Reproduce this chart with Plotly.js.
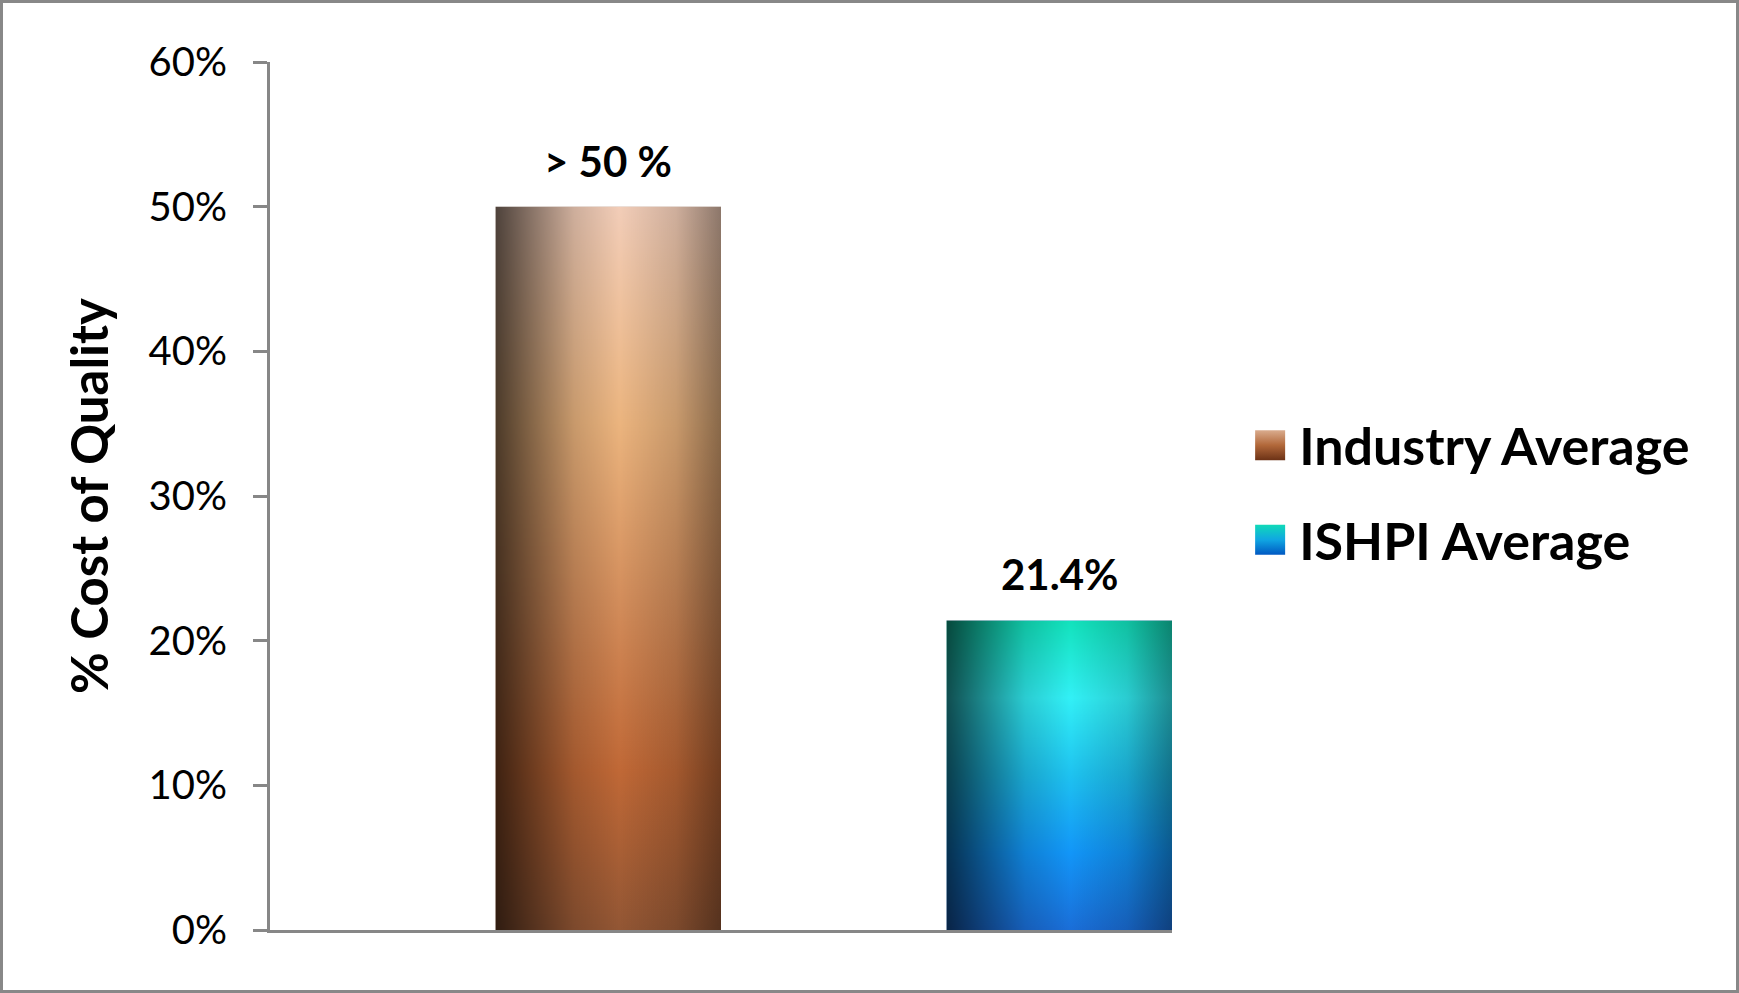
<!DOCTYPE html>
<html>
<head>
<meta charset="utf-8">
<script src="https://cdn.plot.ly/plotly-3.0.1.min.js"></script>
<style>
  html, body { margin: 0; padding: 0; background: #fff; }
  #wrap { position: relative; width: 1739px; height: 993px; }
  #chart { width: 1739px; height: 993px; }
  #frame { position: absolute; left: 0; top: 0; right: 0; bottom: 0; border: 3px solid #888888; pointer-events: none; }
  #gdefs { position: absolute; width: 0; height: 0; }
</style>
</head>
<body>
<svg id="gdefs" width="0" height="0" aria-hidden="true">
  <defs>
    <linearGradient id="vA" x1="0" y1="0" x2="0" y2="1">
      <stop offset="0" stop-color="#F2CDB8"/>
      <stop offset="0.3" stop-color="#EBB47E"/>
      <stop offset="0.55" stop-color="#D28C5A"/>
      <stop offset="0.78" stop-color="#C06836"/>
      <stop offset="1" stop-color="#925634"/>
    </linearGradient>
    <linearGradient id="vB" x1="0" y1="0" x2="0" y2="1">
      <stop offset="0" stop-color="#12E2BC"/>
      <stop offset="0.25" stop-color="#32F0F6"/>
      <stop offset="0.5" stop-color="#1EC2F0"/>
      <stop offset="0.75" stop-color="#1296F8"/>
      <stop offset="1" stop-color="#1A6ED8"/>
    </linearGradient>
    <linearGradient id="hShade" x1="0" y1="0" x2="1" y2="0">
      <stop offset="0" stop-color="#000" stop-opacity="0.68"/>
      <stop offset="0.15" stop-color="#000" stop-opacity="0.45"/>
      <stop offset="0.35" stop-color="#000" stop-opacity="0.15"/>
      <stop offset="0.55" stop-color="#000" stop-opacity="0"/>
      <stop offset="0.8" stop-color="#000" stop-opacity="0.15"/>
      <stop offset="1" stop-color="#000" stop-opacity="0.42"/>
    </linearGradient>
    <pattern id="patA" patternUnits="objectBoundingBox" patternContentUnits="objectBoundingBox" width="1" height="1">
      <rect x="0" y="0" width="1" height="1" fill="url(#vA)"/>
      <rect x="0" y="0" width="1" height="1" fill="url(#hShade)"/>
    </pattern>
    <pattern id="patB" patternUnits="objectBoundingBox" patternContentUnits="objectBoundingBox" width="1" height="1">
      <rect x="0" y="0" width="1" height="1" fill="url(#vB)"/>
      <rect x="0" y="0" width="1" height="1" fill="url(#hShade)"/>
    </pattern>
    <linearGradient id="legA" x1="0" y1="0" x2="0" y2="1">
      <stop offset="0" stop-color="#DAAC8E"/>
      <stop offset="0.5" stop-color="#B2683A"/>
      <stop offset="1" stop-color="#6C3216"/>
    </linearGradient>
    <linearGradient id="legB" x1="0" y1="0" x2="0" y2="1">
      <stop offset="0" stop-color="#10DAB8"/>
      <stop offset="0.5" stop-color="#10A6E2"/>
      <stop offset="1" stop-color="#0058C2"/>
    </linearGradient>
  </defs>
</svg>
<div id="wrap">
  <div id="chart"></div>
  <div id="frame"></div>
</div>
<script>
// ---- data ----
var categories = ["Industry Average", "ISHPI Average"];
var values = [0.50, 0.214];
var labels = ["> 50 %", "21.4%"];
var seriesNames = ["Industry Average", "ISHPI Average"];
var yTickVals = [0, 0.1, 0.2, 0.3, 0.4, 0.5, 0.6];
var yTickText = ["0%", "10%", "20%", "30%", "40%", "50%", "60%"];
var yTitle = "% Cost of Quality";

var baseColors = ["#C07848", "#18A8E8"];
var patterns = ["url(#patA)", "url(#patB)"];
var legendFills = ["url(#legA)", "url(#legB)"];

var FONT = "Lato, 'Open Sans', sans-serif";
var axisGray = "#878787";

var traces = categories.map(function (c, i) {
  return {
    type: "bar",
    name: seriesNames[i],
    x: [c],
    y: [values[i]],
    width: 0.5,
    legendgroup: "g" + i,
    marker: { color: baseColors[i], line: { width: 0 } },
    hoverinfo: "skip"
  };
});

var annotations = categories.map(function (c, i) {
  return {
    x: c, y: values[i], xref: "x", yref: "y",
    text: labels[i], showarrow: false,
    yanchor: "middle", yshift: 46,
    font: { family: FONT, size: 42, color: "#000", weight: "bold" }
  };
});

var layout = {
  width: 1739, height: 993,
  paper_bgcolor: "#ffffff", plot_bgcolor: "#ffffff",
  margin: { l: 270, r: 567, t: 62, b: 63, pad: 0 },
  barmode: "overlay",
  showlegend: true,
  legend: {
    x: 1.07, y: 0.605, xanchor: "left", yanchor: "top",
    traceorder: "grouped", tracegroupgap: 24,
    itemwidth: 54, itemclick: false, itemdoubleclick: false,
    font: { family: FONT, size: 52, color: "#000", weight: "bold" },
    bgcolor: "rgba(0,0,0,0)"
  },
  xaxis: {
    type: "category",
    categoryorder: "array", categoryarray: categories,
    range: [-0.75, 1.25],
    showline: true, linecolor: axisGray, linewidth: 3,
    ticks: "", showticklabels: false, showgrid: false, zeroline: false,
    fixedrange: true
  },
  yaxis: {
    range: [0, 0.6],
    tickvals: yTickVals, ticktext: yTickText,
    showline: true, linecolor: axisGray, linewidth: 3,
    ticks: "outside", ticklen: 14, tickwidth: 3, tickcolor: axisGray,
    ticklabelstandoff: 18,
    showgrid: false, zeroline: false,
    tickfont: { family: FONT, size: 40, color: "#000" },
    title: { text: yTitle, standoff: 24, font: { family: FONT, size: 51, color: "#000", weight: "bold" } },
    automargin: false,
    fixedrange: true
  },
  annotations: annotations
};

Plotly.newPlot("chart", traces, layout, { displayModeBar: false, staticPlot: true }).then(function (gd) {
  var barTraces = gd.querySelectorAll(".barlayer .trace");
  barTraces.forEach(function (t, i) {
    t.querySelectorAll("path").forEach(function (p) {
      p.style.fill = patterns[i];
      p.style.fillOpacity = 1;
    });
  });
  var legendItems = gd.querySelectorAll(".legend .traces");
  legendItems.forEach(function (item, i) {
    item.querySelectorAll(".legendpoints path").forEach(function (p) {
      p.setAttribute("transform", "translate(35,0) scale(2.5)");
      p.style.fill = legendFills[i];
      p.style.stroke = "none";
    });
  });
});
</script>
</body>
</html>
